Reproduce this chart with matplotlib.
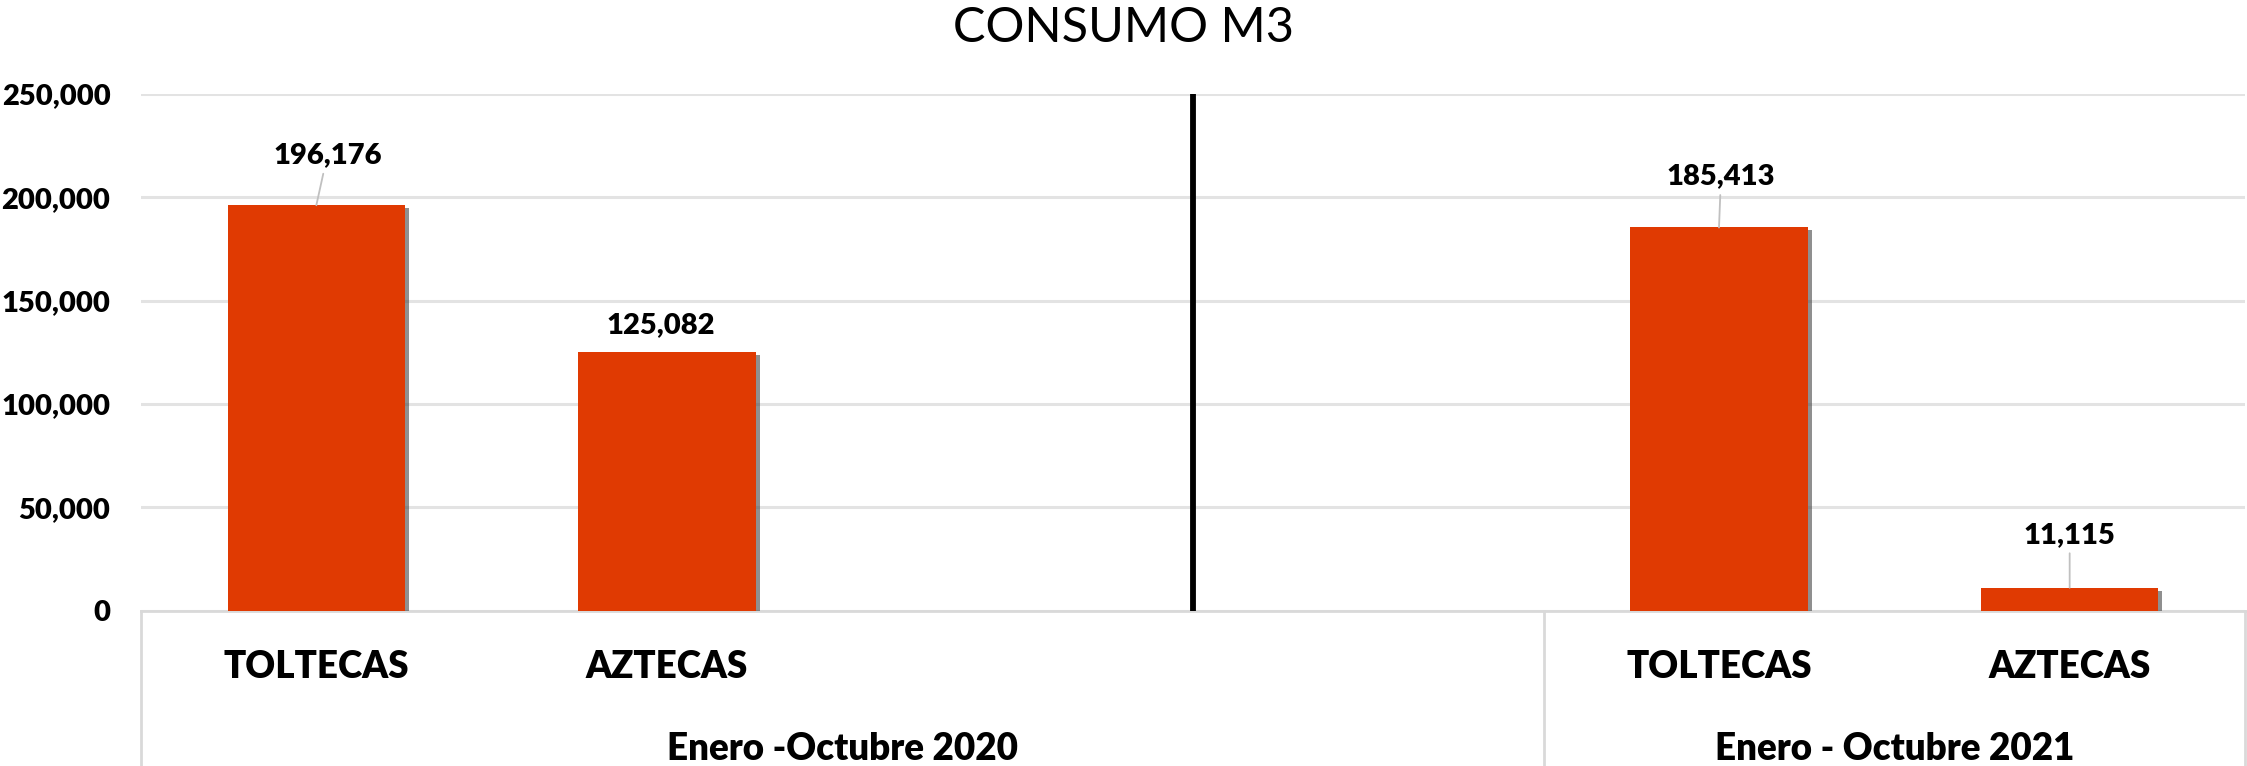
import numpy as np
import matplotlib
matplotlib.use("Agg")
import matplotlib.pyplot as plt
import matplotlib.patheffects as pe
from matplotlib.transforms import blended_transform_factory

# data
categories = ["TOLTECAS", "AZTECAS", "", "", "TOLTECAS", "AZTECAS"]
consumo = [196176, 125082, np.nan, np.nan, 185413, 11115]
groups = ["Enero -Octubre 2020", "Enero - Octubre 2021"]
group_sizes = [4, 2]
y_ticks = [0, 50000, 100000, 150000, 200000, 250000]

# label offsets (px) and whether a leader line is drawn
label_dx = [11, -6, 0, 0, 2, 0]
label_dy = [50, 27, 0, 0, 51, 53]
leader = [True, False, False, False, True, True]

plt.rcParams["font.family"] = ["Lato", "DejaVu Sans"]
PX = 0.72  # points per pixel at dpi 100
W = "heavy"

fig = plt.figure(figsize=(22.47, 7.66), dpi=100)
ax = fig.add_axes([141 / 2247, 155.3 / 766, 2104 / 2247, 516.7 / 766])

x = np.arange(len(categories))
bars = ax.bar(x, consumo, width=0.505, color="#E03A02", zorder=3)
for b in bars:
    b.set_path_effects([pe.SimplePatchShadow(offset=(3, -2), shadow_rgbFace="#444444", alpha=0.6),
                        pe.Normal()])

for i, v in enumerate(consumo):
    if np.isnan(v):
        continue
    arrow = dict(arrowstyle="-", color="#c0c0c0", lw=1.3, shrinkA=2, shrinkB=0) if leader[i] else None
    ax.annotate(f"{v:,.0f}", xy=(x[i], v), xytext=(label_dx[i] * PX, label_dy[i] * PX),
                textcoords="offset points", ha="center", va="center",
                fontsize=21, fontweight=W, arrowprops=arrow, zorder=4)

ax.set_xlim(-0.5, len(categories) - 0.5)
ax.set_ylim(0, 250000)
ax.set_yticks(y_ticks)
ax.set_yticklabels([f"{t:,}" for t in y_ticks], fontsize=21, fontweight=W)
ax.tick_params(axis="y", length=0, pad=22)
ax.set_xticks([])
ax.grid(axis="y", color="#e3e3e3", lw=2.2, zorder=0)
for s in ax.spines.values():
    s.set_visible(False)

# divider between periods
ax.plot([2.5, 2.5], [0, 250000], color="black", lw=4.2, zorder=5, solid_capstyle="butt")

# category axis
tr = blended_transform_factory(ax.transData, ax.transAxes)
ax.plot([-0.5, 5.5], [0, 0], color="#d9d9d9", lw=2, transform=tr, clip_on=False, zorder=2)
edges = np.concatenate([[0], np.cumsum(group_sizes)]) - 0.5
for e in edges:
    ax.plot([e, e], [0, -0.32], color="#d9d9d9", lw=2, transform=tr, clip_on=False)
for i, c in enumerate(categories):
    ax.text(x[i], -0.1308, c, transform=tr, ha="center", va="baseline",
            fontsize=26.5, fontweight=W)
for g, a, b in zip(groups, edges[:-1], edges[1:]):
    ax.text((a + b) / 2, -0.289, g, transform=tr, ha="center", va="baseline",
            fontsize=26.5, fontweight=W)

fig.text(0.5, 1 - 42 / 766, "CONSUMO M3", ha="center", va="baseline", fontsize=35)

fig.savefig("out.png", dpi=100)
